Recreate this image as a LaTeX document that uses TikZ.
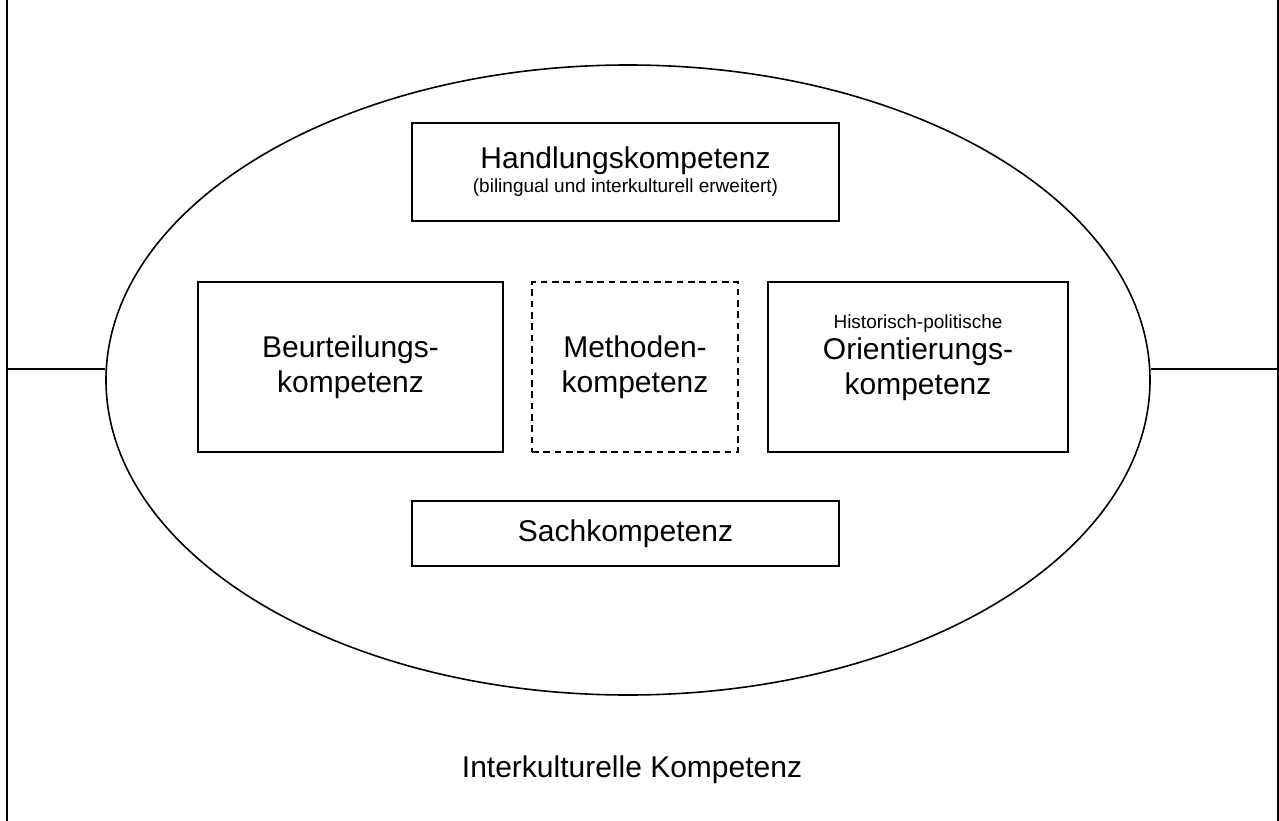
\documentclass[tikz,border=0pt]{standalone}
\usepackage{fontspec}
\setmainfont{Liberation Sans}
\usetikzlibrary{shapes.geometric, positioning}
\newcommand{\mainfs}{\fontsize{22.5}{26.25}\selectfont}
\newcommand{\smallfs}{\fontsize{14.25}{17}\selectfont}
\tikzset{
  frame/.style = {line width=1.2pt, color=black},
  kbox/.style  = {rectangle, draw=black, line width=1.1pt, fill=white,
                  inner sep=0pt, align=center, font=\mainfs},
  mbox/.style  = {kbox, dashed, dash pattern=on 5pt off 3.5pt},
  ellbox/.style= {ellipse, draw=black, line width=1.2pt, inner sep=0pt},
}
\begin{document}
\begin{tikzpicture}[x=0.75pt, y=-0.75pt]
  \useasboundingbox (0,0) rectangle (1279,821);

  % -- frame
  \coordinate (fl1) at (7,0);
  \coordinate (fl2) at (7,821);
  \coordinate (fr1) at (1278,0);
  \coordinate (fr2) at (1278,821);
  \draw[frame] (fl1) -- (fl2);
  \draw[frame] (fr1) -- (fr2);

  % -- ellipse
  \node[ellbox, minimum width=783pt, minimum height=472.5pt] (ell) at (628,380) {};
  \coordinate (lft) at (7,369);
  \coordinate (rgt) at (1278,369);
  \draw[frame, line width=1.1pt] (lft) -- (lft -| ell.west);
  \draw[frame, line width=1.1pt] (rgt) -- (rgt -| ell.east);

  % -- competences
  \node[kbox, minimum width=320.25pt, minimum height=73.5pt] (hdl) at (625.5,172)
    {Handlungskompetenz\\[-8.25pt]{\smallfs (bilingual und interkulturell erweitert)}};
  \node[kbox, minimum width=228.75pt, minimum height=127.5pt] (beu) at (350.5,367)
    {Beurteilungs-\\kompetenz};
  \node[mbox, minimum width=154.5pt, minimum height=127.5pt] (met) at (635,367)
    {Methoden-\\kompetenz};
  \node[kbox, minimum width=225pt, minimum height=127.5pt, text depth=18pt] (ori) at (918,367)
    {{\smallfs Historisch-politische}\\[-3pt]Orientierungs-\\kompetenz};
  \node[kbox, minimum width=320.25pt, minimum height=48.75pt] (sach) at (625.5,533.5)
    {Sachkompetenz};

  % -- outer label
  \node[font=\mainfs] (ikk) at (632,770) {Interkulturelle Kompetenz};

\end{tikzpicture}
\end{document}
